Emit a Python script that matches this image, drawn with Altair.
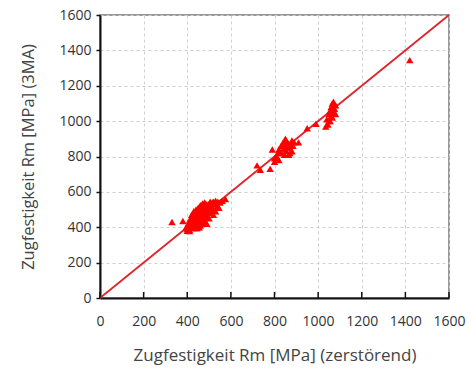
import altair as alt
import pandas as pd

x_vals = [330, 380, 400, 405, 410, 410, 415, 420, 420, 425, 430, 430, 435, 440, 440, 445, 450, 450, 455, 460,
          460, 465, 470, 470, 475, 480, 480, 485, 490, 490, 495, 500, 500, 505, 510, 515, 520, 530, 540, 550,
          560, 575, 420, 430, 445, 455, 465, 475, 485, 495, 410, 440, 460, 480, 500, 520, 450, 470, 490, 435,
          455, 425, 445, 470, 480, 510, 530, 540, 520, 505,
          420, 430, 440, 450, 460, 470, 480, 440, 460, 480, 500, 520, 530, 545, 400, 410, 395, 490, 455, 475,
          720, 735, 780, 790, 800, 800, 810, 815, 820, 830, 830, 840, 840, 845, 850, 850, 855, 860, 860, 865,
          870, 870, 875, 880, 880, 885, 890, 910, 820, 850,
          950, 990, 1035, 1045, 1040, 1050, 1050, 1055, 1060, 1060, 1065, 1070, 1070, 1075, 1080, 1080, 1065, 1055,
          1420]
y_vals = [430, 435, 390, 420, 385, 440, 410, 400, 450, 430, 395, 470, 420, 445, 410, 480, 430, 460, 400, 490,
          440, 470, 420, 500, 455, 480, 440, 510, 470, 500, 520, 480, 530, 500, 520, 540, 500, 550, 520, 540,
          550, 560, 420, 445, 455, 475, 490, 510, 460, 490, 415, 460, 460, 500, 510, 530, 480, 450, 530, 440,
          420, 405, 395, 480, 520, 490, 530, 545, 545, 545,
          470, 490, 500, 510, 525, 535, 540, 395, 410, 430, 450, 470, 490, 510, 380, 378, 400, 420, 505, 445,
          750, 725, 730, 840, 790, 770, 800, 820, 780, 860, 820, 880, 840, 810, 870, 900, 830, 860, 880, 810,
          850, 820, 870, 890, 830, 860, 880, 880, 840, 850,
          960, 985, 970, 980, 1010, 1000, 1040, 1060, 1030, 1080, 1100, 1050, 1110, 1070, 1090, 1040, 1020, 1000,
          1345]
line_x = [0, 1600]
line_y = [0, 1600]
ticks = [0, 200, 400, 600, 800, 1000, 1200, 1400, 1600]

pts = pd.DataFrame({"x": x_vals, "y": y_vals})
ln = pd.DataFrame({"x": line_x, "y": line_y})
tk = pd.DataFrame({"t": ticks})

xs = alt.Scale(domain=[0, 1600], nice=False, zero=False)
ys = alt.Scale(domain=[0, 1600], nice=False, zero=False)

xaxis = alt.Axis(values=ticks, format="d", title="Zugfestigkeit Rm [MPa] (zerstörend)", ticks=False,
                 labelOverlap=False, labelFlush=False, labelPadding=16, titlePadding=19,
                 titleFontSize=17)
yaxis = alt.Axis(values=ticks, format="d", title="Zugfestigkeit Rm [MPa] (3MA)", tickSize=4,
                 labelOverlap=False, labelFlush=False, labelPadding=5, titlePadding=22,
                 titleFontSize=16.5)

diag = alt.Chart(ln).mark_line(color="#e0242a", strokeWidth=1.8).encode(
    x=alt.X("x:Q", scale=xs, axis=xaxis),
    y=alt.Y("y:Q", scale=ys, axis=yaxis),
)

points = alt.Chart(pts).mark_point(shape="triangle-up", filled=True, color="#ff0000",
                                   size=55, opacity=1).encode(
    x=alt.X("x:Q", scale=xs, axis=xaxis),
    y=alt.Y("y:Q", scale=ys, axis=yaxis),
)

xticks = alt.Chart(tk).mark_rule(color="#111111", strokeWidth=1.5).encode(
    x=alt.X("t:Q", scale=xs, axis=xaxis),
    y=alt.value(277),
    y2=alt.value(283),
)

chart = alt.layer(diag, points, xticks).properties(
    width=349, height=283,
    autosize=alt.AutoSizeParams(type="none"),
    padding={"left": 100, "top": 15, "right": 22, "bottom": 74},
).configure_view(
    stroke="#777777", strokeWidth=1.5
).configure_axis(
    grid=True, gridColor="#cfcfcf", gridDash=[3, 3], gridWidth=1,
    domainColor="#111111", domainWidth=2,
    tickColor="#111111", tickWidth=1.5,
    labelFont="Open Sans", labelFontSize=14, labelColor="#333333",
    titleFont="Open Sans", titleFontWeight="normal", titleColor="#444444",
)

chart.save("out.html", embed_options={"renderer": "svg", "actions": False})
